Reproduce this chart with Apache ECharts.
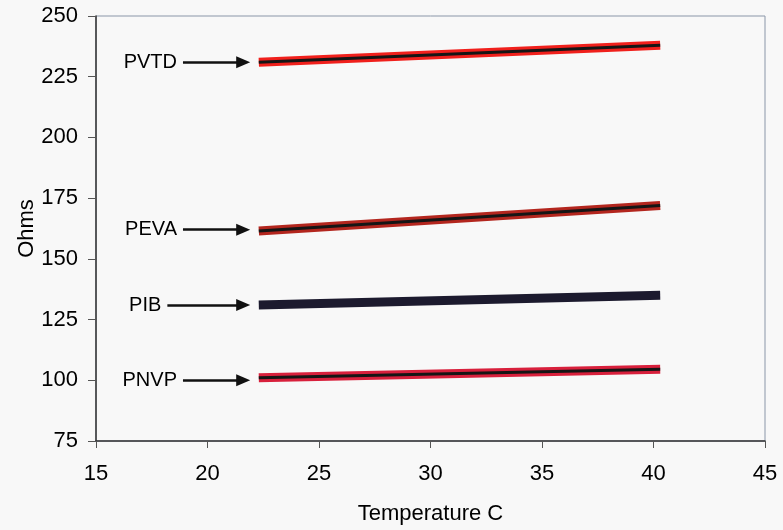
<!DOCTYPE html>
<html><head><meta charset="utf-8">
<script src="https://cdn.jsdelivr.net/npm/echarts@6/dist/echarts.min.js"></script>
<style>html,body{margin:0;padding:0;background:#f8f8f8}#c{width:783px;height:530px}</style>
</head><body><div id="c"></div>
<script>
const temps = [22.3, 40.3];
const pvtd = [231, 238];
const peva = [161.5, 172];
const pib = [131, 135];
const pnvp = [101, 104.5];
const names = ['PVTD', 'PEVA', 'PIB', 'PNVP'];
const arrowFromX = [18.9, 18.9, 18.2, 18.9];
const arrowToX = [21.6, 21.6, 21.6, 21.6];
const arrowY = [231, 162, 131, 100];
const xTicks = [15, 20, 25, 30, 35, 40, 45];
const yTicks = [75, 100, 125, 150, 175, 200, 225, 250];

const FONT = 'Liberation Sans, Arial, sans-serif';
function pts(vals){ return temps.map((t,i)=>[t, vals[i]]); }

const seriesDefs = [
  {name:'PVTD', vals:pvtd, outer:'#f0201c', inner:'#151515'},
  {name:'PEVA', vals:peva, outer:'#b3261e', inner:'#151515'},
  {name:'PIB', vals:pib, outer:'#1c1a2e', inner:null},
  {name:'PNVP', vals:pnvp, outer:'#d8203c', inner:'#151515'}
];

const series = [];
seriesDefs.forEach(d=>{
  series.push({type:'line', name:d.name, data:pts(d.vals), showSymbol:false, symbol:'none',
    lineStyle:{color:d.outer, width:9, cap:'butt'}, z:2});
  if (d.inner) series.push({type:'line', name:d.name+'_c', data:pts(d.vals), showSymbol:false, symbol:'none',
    lineStyle:{color:d.inner, width:3, cap:'butt'}, z:3});
});

series.push({type:'line', name:'arrows', data:[], symbol:'none',
  markLine:{silent:true, symbol:['none','triangle'], symbolSize:[12,14], animation:false,
    lineStyle:{color:'#111', width:2.5, type:'solid'},
    data: names.map((n,i)=>[
      {coord:[arrowFromX[i], arrowY[i]], label:{show:true, position:'start', formatter:n, color:'#000', fontSize:20, fontFamily:FONT, distance:6}},
      {coord:[arrowToX[i], arrowY[i]]}
    ])
  }});

const chart = echarts.init(document.getElementById('c'));
chart.setOption({
  animation:false,
  backgroundColor:'#f8f8f8',
  grid:{left:96, right:18, top:16, bottom:88, show:true, borderColor:'#8a96a8', borderWidth:1, backgroundColor:'transparent'},
  xAxis:{type:'value', min:15, max:45, interval:5,
    name:'Temperature C', nameLocation:'middle', nameGap:62, nameMoveOverlap:false,
    nameTextStyle:{fontSize:22, color:'#000', fontFamily:FONT},
    axisLine:{show:true, lineStyle:{color:'#333', width:1.5}},
    axisTick:{show:true, inside:false, length:7, lineStyle:{color:'#555'}},
    axisLabel:{fontSize:22, color:'#000', fontFamily:FONT, margin:22, formatter:v=>xTicks.includes(v)?String(v):''},
    splitLine:{show:false}},
  yAxis:{type:'value', min:75, max:250, interval:25,
    name:'Ohms', nameLocation:'middle', nameGap:58, nameMoveOverlap:false,
    nameTextStyle:{fontSize:22, color:'#000', fontFamily:FONT},
    axisLine:{show:true, lineStyle:{color:'#333', width:1.5}},
    axisTick:{show:true, inside:false, length:8, lineStyle:{color:'#555'}},
    axisLabel:{fontSize:22, color:'#000', fontFamily:FONT, margin:18, formatter:v=>yTicks.includes(v)?String(v):''},
    splitLine:{show:false}},
  series: series
});
</script></body></html>
